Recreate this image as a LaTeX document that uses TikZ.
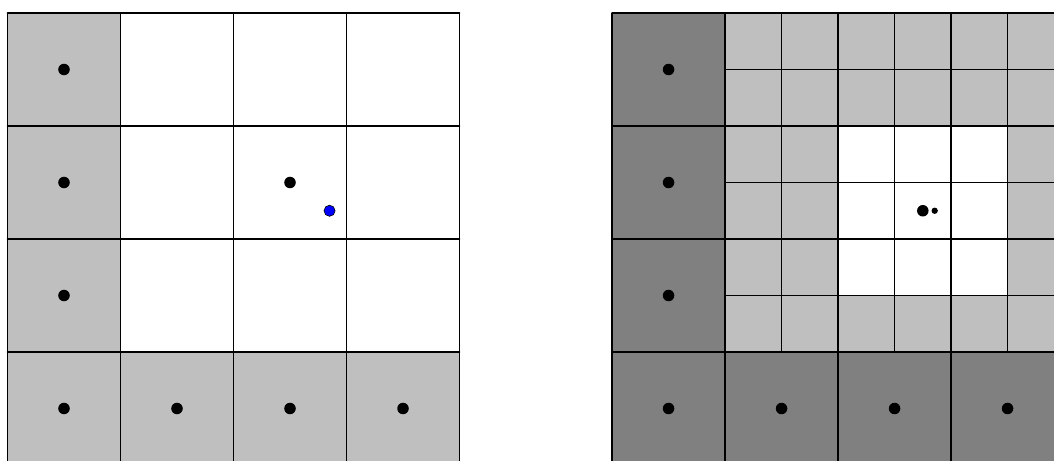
\documentclass[tikz,border=0pt]{standalone}
\begin{document}
\begin{tikzpicture}[x=2cm, y=2cm, line join=round, line cap=round]
	\tikzset{
		gridline/.style={black, line width=0.8pt},
		site/.style={black},
	}
	\useasboundingbox (-0.0664,0.0442) rectangle (9.261,4.115);
	
	% Left grid: boundary cells shaded
	\coordinate (LO) at (0,0);
	\fill[lightgray] (0,1) rectangle (1,4);
	\fill[lightgray] (0,0) rectangle (4,1);
	\draw[gridline, step=2cm] (LO) grid (4,4);
	\foreach \y in {1,2,3}
		\fill[site] (0.5,\y+0.5) circle (2.9pt);
	\foreach \x in {0,1,2,3}
		\fill[site] (\x+0.5,0.5) circle (2.9pt);
	\fill[site] (2.5,2.5) circle (2.9pt);
	\filldraw[fill=blue, draw=black, line width=0.3pt] (2.85,2.25) circle (2.8pt);
	
	% Right grid: coarse boundary cells plus refined interior
	\begin{scope}[shift={(5.35,0)}]
		\coordinate (RO) at (0,0);
		\fill[gray] (0,1) rectangle (1,4);
		\fill[gray] (0,0) rectangle (4,1);
		\fill[lightgray] (1,1) rectangle (4,4);
		\fill[white] (2,1.5) rectangle (3.5,3);
		\draw[gridline, step=1cm] (1,1) grid (4,4);
		\draw[gridline, step=2cm] (RO) grid (4,4);
		\foreach \y in {1,2,3}
			\fill[site] (0.5,\y+0.5) circle (2.9pt);
		\foreach \x in {0,1,2,3}
			\fill[site] (\x+0.5,0.5) circle (2.9pt);
		\fill[site] (2.75,2.25) circle (2.9pt);
		\fill[site] (2.855,2.25) circle (1.6pt);
	\end{scope}
\end{tikzpicture}
\end{document}
